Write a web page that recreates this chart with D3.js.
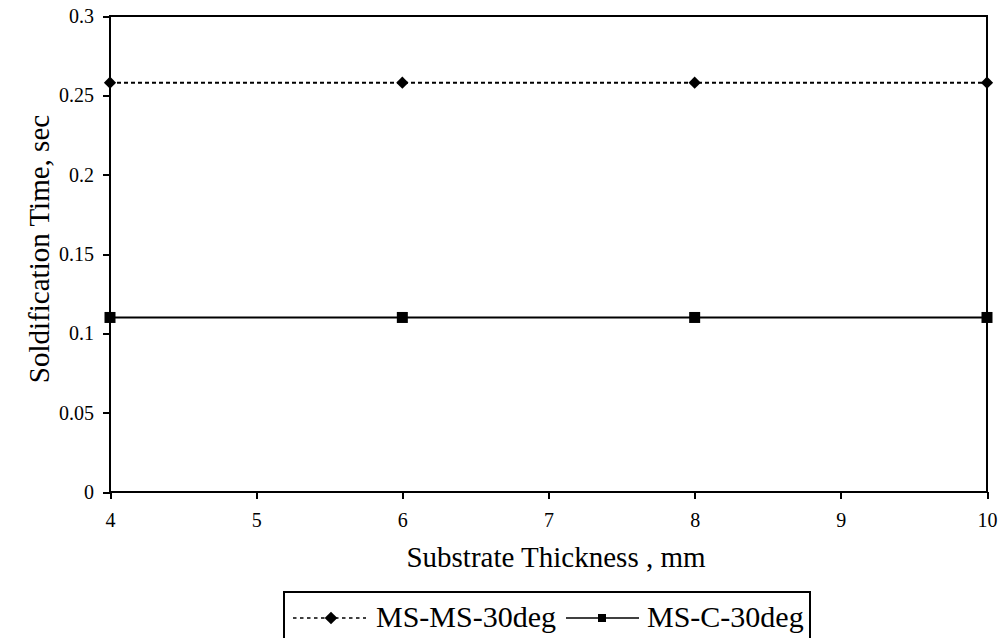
<!DOCTYPE html>
<html>
<head>
<meta charset="utf-8">
<script src="https://cdn.jsdelivr.net/npm/d3@7"></script>
<style>
  body { margin: 0; background: #fff; }
  .axis path, .axis line { stroke: #000; stroke-width: 2; shape-rendering: crispEdges; }
  .frame { fill: none; stroke: #000; stroke-width: 2; shape-rendering: crispEdges; }
</style>
</head>
<body>
<div id="chart"></div>
<script>
// Substrate thickness (mm) vs solidification time (sec)
var thickness = [4, 6, 8, 10];
var msMs30 = [0.258, 0.258, 0.258, 0.258];
var msC30 = [0.110, 0.110, 0.110, 0.110];
var xTicks = [4, 5, 6, 7, 8, 9, 10];
var yTicks = [0, 0.05, 0.1, 0.15, 0.2, 0.25, 0.3];
var seriesNames = ["MS-MS-30deg", "MS-C-30deg"];

var FONT = "Liberation Serif";
var W = 1008, H = 638;
var margin = {left: 110, right: 21, top: 16, bottom: 146};
var innerW = W - margin.left - margin.right;
var innerH = H - margin.top - margin.bottom;

var svg = d3.select("#chart").append("svg")
    .attr("width", W)
    .attr("height", H)
    .style("display", "block");

var g = svg.append("g")
    .attr("transform", "translate(" + margin.left + "," + margin.top + ")");

var x = d3.scaleLinear().domain([4, 10]).range([0, innerW]);
var y = d3.scaleLinear().domain([0, 0.3]).range([innerH, 0]);

// plot frame
g.append("rect").attr("class", "frame")
    .attr("x", 0).attr("y", 0)
    .attr("width", innerW).attr("height", innerH);

// axes
g.append("g").attr("class", "x axis")
    .attr("transform", "translate(0," + innerH + ")")
    .call(d3.axisBottom(x).tickValues(xTicks).tickSize(7).tickPadding(14).tickFormat(d3.format("d")))
    .call(function (s) { s.select(".domain").remove(); });

g.append("g").attr("class", "y axis")
    .call(d3.axisLeft(y).tickValues(yTicks).tickSize(7).tickPadding(9)
        .tickFormat(function (d) { return d === 0 ? "0" : String(+d.toFixed(2)); }))
    .call(function (s) { s.select(".domain").remove(); });

g.selectAll(".axis")
    .attr("font-family", FONT)
    .attr("font-size", 20);
g.selectAll(".axis text").attr("fill", "#000");

// lines
var line = d3.line()
    .x(function (d) { return x(d[0]); })
    .y(function (d) { return y(d[1]); });

var s1 = thickness.map(function (t, i) { return [t, msMs30[i]]; });
var s2 = thickness.map(function (t, i) { return [t, msC30[i]]; });

g.append("path").attr("d", line(s1))
    .attr("fill", "none").attr("stroke", "#000")
    .attr("stroke-width", 2).attr("stroke-dasharray", "4,3");

g.append("path").attr("d", line(s2))
    .attr("fill", "none").attr("stroke", "#000")
    .attr("stroke-width", 2);

g.selectAll(".dia").data(s1).enter().append("path")
    .attr("class", "dia")
    .attr("d", d3.symbol().type(d3.symbolSquare).size(75))
    .attr("transform", function (d) { return "translate(" + x(d[0]) + "," + y(d[1]) + ") rotate(45)"; })
    .attr("fill", "#000");

g.selectAll(".sq").data(s2).enter().append("path")
    .attr("class", "sq")
    .attr("d", d3.symbol().type(d3.symbolSquare).size(121))
    .attr("transform", function (d) { return "translate(" + x(d[0]) + "," + y(d[1]) + ")"; })
    .attr("fill", "#000");

// axis titles
svg.append("text")
    .attr("font-family", FONT).attr("font-size", 29)
    .attr("text-anchor", "middle")
    .attr("x", 556)
    .attr("y", 567)
    .text("Substrate Thickness , mm");

svg.append("text")
    .attr("font-family", FONT).attr("font-size", 29)
    .attr("text-anchor", "middle")
    .attr("transform", "translate(49,249) rotate(-90)")
    .text("Soldification Time, sec");

// legend
var leg = svg.append("g").attr("class", "legend");
leg.append("rect").attr("class", "frame")
    .attr("x", 284).attr("y", 592)
    .attr("width", 526).attr("height", 60);

leg.append("line")
    .attr("x1", 293).attr("x2", 366).attr("y1", 618).attr("y2", 618)
    .attr("stroke", "#000").attr("stroke-width", 1.5).attr("stroke-dasharray", "3.5,3.5");
leg.append("path")
    .attr("d", d3.symbol().type(d3.symbolSquare).size(80))
    .attr("transform", "translate(331,618) rotate(45)");
leg.append("text")
    .attr("font-family", FONT).attr("font-size", 30)
    .attr("x", 376).attr("y", 627)
    .text(seriesNames[0]);

leg.append("line")
    .attr("x1", 566).attr("x2", 639).attr("y1", 618).attr("y2", 618)
    .attr("stroke", "#000").attr("stroke-width", 1.5);
leg.append("path")
    .attr("d", d3.symbol().type(d3.symbolSquare).size(64))
    .attr("transform", "translate(602,618)");
leg.append("text")
    .attr("font-family", FONT).attr("font-size", 30)
    .attr("x", 647).attr("y", 627)
    .text(seriesNames[1]);
</script>
</body>
</html>
